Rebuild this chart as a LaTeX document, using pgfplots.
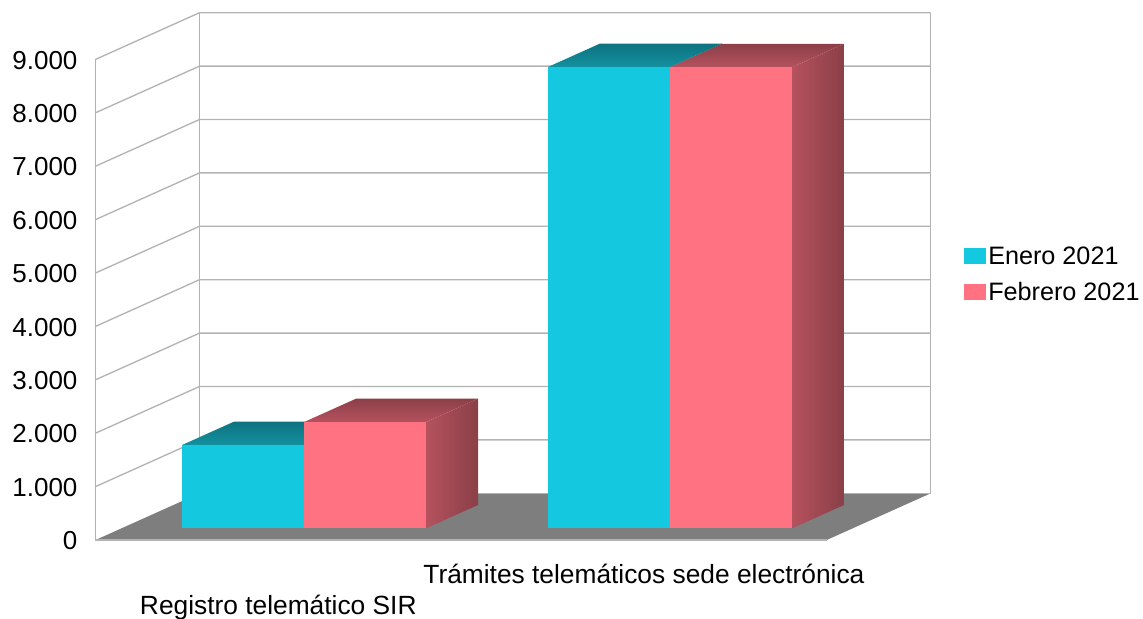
\documentclass[border=0pt]{standalone}
\usepackage{fontspec}
\setmainfont{Liberation Sans}
\usepackage{pgfplots}
\pgfplotsset{compat=1.18}

\definecolor{gridc}{HTML}{B3B3B3}
\definecolor{floorc}{HTML}{7E7E7E}
\definecolor{bluef}{HTML}{14C8DF}
\definecolor{bluetb}{HTML}{0E7280}
\definecolor{bluetf}{HTML}{14919F}
\definecolor{redf}{HTML}{FF7282}
\definecolor{redtb}{HTML}{8C3F48}
\definecolor{redtf}{HTML}{B5525E}
\definecolor{redsl}{HTML}{B5525E}
\definecolor{redsr}{HTML}{8A3F47}

% one bar: left x, right x, value, colours of front, top back, top front, side left, side right
\newcommand{\threedbar}[8]{%
  \addplot3[forget plot,draw=none,bottom color=#6,top color=#5] coordinates {(#1,0.25,#3) (#2,0.25,#3) (#2,0.75,#3) (#1,0.75,#3)} -- cycle;
  \addplot3[forget plot,draw=none,left color=#7,right color=#8] coordinates {(#2,0.25,0) (#2,0.75,0) (#2,0.75,#3) (#2,0.25,#3)} -- cycle;
  \addplot3[forget plot,draw=none,fill=#4] coordinates {(#1,0.25,0) (#2,0.25,0) (#2,0.25,#3) (#1,0.25,#3)} -- cycle;
}

\begin{document}
\begin{tikzpicture}[font=\fontsize{19}{23}\selectfont]
\useasboundingbox (-71.625pt,-58.5pt) rectangle +(857.25pt,463.5pt);
\begin{axis}[
    at={(0pt,0pt)},
    anchor=origin,
    x={(0.75pt,0pt)},
    y={(78pt,35.025pt)},
    z={(0pt,0.040058pt)},
    xmin=0, xmax=731.2,
    ymin=0, ymax=1,
    zmin=0, zmax=9000,
    clip=false,
    axis line style={draw=none},
    tick style={draw=none},
    major tick length=0pt,
    ytick=\empty,
    xtick={182.8,548.4},
    xticklabels={{\\[14pt]Registro telemático SIR},{Trámites telemáticos sede electrónica}},
    x tick label style={align=center,font=\fontsize{19.75}{23.25}\selectfont,anchor=north,yshift=-14.75pt},
    ztick={0,1000,...,9000},
    scaled z ticks=false,
    z tick label style={anchor=east,xshift=-10pt,yshift=-0.5pt,font=\fontsize{19.5}{23}\selectfont,/pgf/number format/.cd,1000 sep={.},assume math mode=true},
    legend style={
        at={(axis cs:864.5,0,4971)},anchor=west,
        draw=none,fill=none,
        row sep=8pt,
        font=\fontsize{18.9}{23}\selectfont,
    },
    legend cell align=left,
    legend image code/.code={\path (0pt,-6pt) rectangle (16pt,6pt);\fill[#1] (0pt,-6pt) rectangle (12pt,6pt);},
]
\addlegendimage{fill=bluef,draw=none}
\addlegendentry{Enero 2021}
\addlegendimage{fill=redf,draw=none}
\addlegendentry{Febrero 2021}

% floor
\addplot3[forget plot,draw=none,fill=floorc] coordinates {(0,0,0) (731.2,0,0) (731.2,1,0) (0,1,0)} -- cycle;

% walls and grid lines
\pgfplotsinvokeforeach{1000,2000,...,9000}{
  \addplot3[forget plot,gridc,line width=1pt] coordinates {(0,0,#1) (0,1,#1) (731.2,1,#1)};
}
\addplot3[forget plot,gridc,line width=1pt] coordinates {(0,0,0) (0,0,9000)};
\addplot3[forget plot,gridc,line width=1pt] coordinates {(0,1,0) (0,1,9000)};
\addplot3[forget plot,gridc,line width=1pt] coordinates {(731.2,1,0) (731.2,1,9000)};
\addplot3[forget plot,gridc,line width=1pt] coordinates {(0,0,0) (731.2,0,0)};
\addplot3[forget plot,gridc,line width=1pt] coordinates {(0,1,0) (731.2,1,0)};

% bars
\threedbar{60.5}{182.5}{1560}{bluef}{bluetb}{bluetf}{bluetf}{bluetb}
\threedbar{182.5}{304.5}{1990}{redf}{redtb}{redtf}{redsl}{redsr}
\threedbar{426.5}{548.5}{8640}{bluef}{bluetb}{bluetf}{bluetf}{bluetb}
\threedbar{548.5}{670.5}{8635}{redf}{redtb}{redtf}{redsl}{redsr}
\end{axis}
\end{tikzpicture}
\end{document}
